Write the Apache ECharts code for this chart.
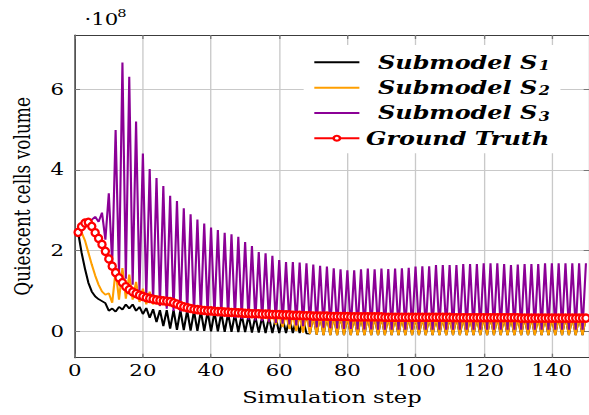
<!DOCTYPE html>
<html><head><meta charset="utf-8">
<script src="https://cdn.jsdelivr.net/npm/echarts@6/dist/echarts.min.js"></script>
<style>
html,body{margin:0;padding:0;background:#fff;overflow:hidden;}
#wrap{width:589px;height:415px;overflow:hidden;position:relative;background:#fff;}
#chart{width:443px;height:415px;transform:scaleX(1.329571);transform-origin:0 0;}
</style></head><body>
<div id="wrap"><div id="chart"></div></div>
<script>
// Simulation steps 1..150
const steps = [];
for (let i = 1; i <= 150; i++) steps.push(i);

// Values in units of 1e8
const submodelS1 = [
 2.45,1.95,1.55,1.20,0.98,0.86,0.79,0.74,0.69,0.50,
 0.56,0.48,0.60,0.53,0.66,0.56,0.66,0.50,0.60,0.42,
 0.57,0.33,0.54,0.22,0.52,0.12,0.52,0.06,0.52,0.03,
 0.52,0.02,0.51,0.01,0.50,0.00,0.50,0.00,0.48,-0.01,
 0.47,-0.01,0.45,-0.02,0.44,-0.02,0.42,-0.03,0.40,-0.03,
 0.38,-0.04,0.36,-0.04,0.35,-0.05,0.34,-0.05,0.33,-0.05,
 0.32,-0.05,0.31,-0.05,0.30,-0.05,0.30,-0.06,-0.07,0.39,
 -0.09,0.39,-0.10,0.38,-0.10,0.38,-0.10,0.38,-0.10,0.37,
 -0.10,0.37,-0.10,0.37,-0.10,0.37,-0.10,0.36,-0.10,0.36,
 -0.10,0.36,-0.10,0.36,-0.10,0.36,-0.10,0.36,-0.10,0.35,
 -0.10,0.35,-0.10,0.35,-0.10,0.35,-0.10,0.35,-0.10,0.35,
 -0.10,0.35,-0.10,0.35,-0.10,0.35,-0.10,0.35,-0.10,0.35,
 -0.10,0.35,-0.10,0.35,-0.10,0.35,-0.10,0.35,-0.10,0.35,
 -0.10,0.35,-0.10,0.35,-0.10,0.35,-0.10,0.35,-0.10,0.35,
 -0.10,0.35,-0.10,0.35,-0.10,0.35,-0.10,0.35,-0.10,0.35
];
const submodelS2 = [
 2.45,2.45,2.25,1.95,1.65,1.38,1.15,0.98,0.90,0.94,
 0.70,1.50,0.78,1.56,0.80,1.40,0.78,1.22,0.72,1.05,
 0.66,0.98,0.66,0.88,0.62,0.84,0.60,0.80,0.58,0.75,
 0.55,0.70,0.52,0.65,0.50,0.62,0.48,0.60,0.46,0.58,
 0.45,0.56,0.44,0.55,0.43,0.53,0.42,0.52,0.40,0.50,
 0.37,0.48,0.33,0.46,0.28,0.45,0.22,0.44,0.16,0.43,
 0.10,0.42,0.05,0.41,0.00,0.40,-0.04,0.40,-0.07,0.39,
 -0.09,0.39,-0.10,0.38,-0.10,0.38,-0.10,0.38,-0.10,0.37,
 -0.10,0.37,-0.10,0.37,-0.10,0.37,-0.10,0.36,-0.10,0.36,
 -0.10,0.36,-0.10,0.36,-0.10,0.36,-0.10,0.36,-0.10,0.35,
 -0.10,0.35,-0.10,0.35,-0.10,0.35,-0.10,0.35,-0.10,0.35,
 -0.10,0.35,-0.10,0.35,-0.10,0.35,-0.10,0.35,-0.10,0.35,
 -0.10,0.35,-0.10,0.35,-0.10,0.35,-0.10,0.35,-0.10,0.35,
 -0.10,0.35,-0.10,0.35,-0.10,0.35,-0.10,0.35,-0.10,0.35,
 -0.10,0.35,-0.10,0.35,-0.10,0.35,-0.10,0.35,-0.10,0.35
];
const submodelS3 = [
 2.45,2.62,2.68,2.74,2.76,2.84,2.71,2.94,2.27,3.42,
 1.68,4.99,1.39,6.67,1.30,6.31,1.15,5.20,1.00,4.41,
 0.85,4.02,0.72,3.80,0.62,3.60,0.55,3.36,0.50,3.23,
 0.48,3.05,0.46,2.90,0.44,2.77,0.42,2.67,0.40,2.57,
 0.38,2.51,0.36,2.44,0.34,2.40,0.32,2.34,0.30,2.21,
 0.28,2.11,0.26,1.96,0.24,1.93,0.22,1.87,0.20,1.76,
 0.18,1.71,0.16,1.71,0.14,1.70,0.12,1.68,0.10,1.65,
 0.09,1.62,0.08,1.60,0.07,1.56,0.06,1.53,0.05,1.51,
 0.05,1.51,0.04,1.53,0.04,1.55,0.04,1.53,0.03,1.55,
 0.03,1.54,0.03,1.55,0.03,1.56,0.03,1.57,0.03,1.60,
 0.03,1.61,0.03,1.61,0.03,1.64,0.03,1.64,0.03,1.64,
 0.03,1.64,0.03,1.66,0.03,1.66,0.03,1.66,0.03,1.68,
 0.03,1.68,0.03,1.68,0.03,1.66,0.03,1.64,0.03,1.65,
 0.03,1.66,0.03,1.66,0.03,1.66,0.03,1.68,0.03,1.68,
 0.03,1.68,0.03,1.68,0.03,1.68,0.03,1.68,0.03,1.68
];
const groundTruth = [
 2.45,2.59,2.68,2.70,2.60,2.44,2.30,2.15,1.98,1.79,
 1.61,1.45,1.32,1.20,1.10,1.03,0.97,0.93,0.89,0.86,
 0.83,0.81,0.79,0.77,0.76,0.75,0.74,0.73,0.70,0.67,
 0.63,0.60,0.58,0.56,0.54,0.53,0.52,0.51,0.50,0.50,
 0.49,0.48,0.48,0.47,0.47,0.46,0.46,0.45,0.45,0.44,
 0.44,0.43,0.43,0.43,0.42,0.42,0.42,0.41,0.41,0.41,
 0.40,0.40,0.40,0.39,0.39,0.39,0.38,0.38,0.38,0.37,
 0.37,0.37,0.37,0.37,0.36,0.36,0.36,0.36,0.36,0.36,
 0.35,0.35,0.35,0.35,0.35,0.35,0.35,0.35,0.35,0.35,
 0.34,0.34,0.34,0.34,0.34,0.34,0.34,0.34,0.34,0.34,
 0.34,0.34,0.34,0.34,0.34,0.34,0.34,0.34,0.34,0.34,
 0.33,0.33,0.33,0.33,0.33,0.33,0.33,0.33,0.33,0.33,
 0.33,0.33,0.33,0.33,0.33,0.33,0.33,0.33,0.33,0.33,
 0.32,0.32,0.32,0.32,0.32,0.32,0.32,0.32,0.32,0.32,
 0.32,0.32,0.32,0.32,0.32,0.32,0.32,0.32,0.32,0.32
];

const xTicks = [0,20,40,60,80,100,120,140];
const yTicks = [0,2,4,6];
const seriesNames = ['Submodel S1','Submodel S2','Submodel S3','Ground Truth'];
const xLabel = 'Simulation step';
const yLabel = 'Quiescent cells volume';

const serif = '"DejaVu Serif", serif';
const pair = arr => steps.map((s, i) => [s, arr[i]]);

const chart = echarts.init(document.getElementById('chart'), null, {renderer: 'svg', width: 443, height: 415});

const axisLineStyle = {color: '#3c3c3c', width: 1.1};
const tickStyle = {color: '#777', width: 1};
const gridStyle = {color: '#c9c9c9', width: 1};
const X_MAX = 150.9, Y_MIN = -0.663, Y_MAX = 7.35;

const option = {
  animation: false,
  backgroundColor: '#fff',
  grid: {left: 56.2, top: 35, width: 387.2, height: 322.7},
  xAxis: [
    {type: 'value', min: 0, max: X_MAX, position: 'bottom',
     name: xLabel, nameLocation: 'middle', nameGap: 31,
     nameTextStyle: {fontFamily: serif, fontSize: 17, color: '#000'},
     axisLine: {show: true, onZero: false, lineStyle: axisLineStyle},
     axisTick: {show: true, inside: true, length: 4, customValues: xTicks, lineStyle: tickStyle},
     axisLabel: {show: true, customValues: xTicks, margin: 5, fontFamily: serif, fontSize: 16, color: '#000'},
     splitLine: {show: true, lineStyle: gridStyle}},
    {type: 'value', min: 0, max: X_MAX, position: 'top',
     axisLine: {show: true, onZero: false, lineStyle: axisLineStyle},
     axisTick: {show: true, inside: true, length: 4, customValues: xTicks, lineStyle: tickStyle},
     axisLabel: {show: false, customValues: xTicks},
     splitLine: {show: false}}
  ],
  yAxis: [
    {type: 'value', min: Y_MIN, max: Y_MAX, position: 'left',
     name: yLabel, nameLocation: 'middle', nameGap: 31,
     nameTextStyle: {fontFamily: serif, fontSize: 17, color: '#000'},
     axisLine: {show: true, onZero: false, lineStyle: axisLineStyle},
     axisTick: {show: true, inside: true, length: 4, customValues: yTicks, lineStyle: tickStyle},
     axisLabel: {show: true, customValues: yTicks, margin: 8, fontFamily: serif, fontSize: 16, color: '#000'},
     splitLine: {show: true, lineStyle: gridStyle}},
    {type: 'value', min: Y_MIN, max: Y_MAX, position: 'right',
     axisLine: {show: true, onZero: false, lineStyle: axisLineStyle},
     axisTick: {show: true, inside: true, length: 4, customValues: yTicks, lineStyle: tickStyle},
     axisLabel: {show: false, customValues: yTicks},
     splitLine: {show: false}}
  ],
  legend: {
    orient: 'vertical', left: 228.4, top: 45, padding: [8, 8, 6, 7], itemGap: 6.8,
    itemWidth: 33.9, itemHeight: 6, backgroundColor: '#fff', borderWidth: 0,
    data: [
      {name: seriesNames[0], itemStyle: {opacity: 0}},
      {name: seriesNames[1], itemStyle: {opacity: 0}},
      {name: seriesNames[2], itemStyle: {opacity: 0}},
      {name: seriesNames[3]}
    ],
    formatter: function (n) {
      if (n === 'Ground Truth') return '{g|' + n + '}';
      return '{p| }{t|' + n.slice(0, -1) + '}{s|' + n.slice(-1) + '}';
    },
    textStyle: {
      fontFamily: serif, fontStyle: 'italic', fontWeight: 'bold', fontSize: 18, color: '#000',
      rich: {
        p: {width: 9, fontSize: 18, lineHeight: 24},
        t: {fontFamily: serif, fontStyle: 'italic', fontWeight: 'bold', fontSize: 18, lineHeight: 24, color: '#000'},
        g: {fontFamily: serif, fontStyle: 'italic', fontWeight: 'bold', fontSize: 18, lineHeight: 24, color: '#000'},
        s: {fontFamily: serif, fontWeight: 'bold', fontSize: 12, lineHeight: 12, padding: [6.6, 0, 0, 1], color: '#000'}
      }
    }
  },
  graphic: [
    {type: 'text', x: 63.5, y: 19.5, silent: true,
     style: {text: '·10', fontFamily: serif, fontSize: 16, fill: '#000', align: 'left', verticalAlign: 'middle'}},
    {type: 'text', x: 88.2, y: 13.5, silent: true,
     style: {text: '8', fontFamily: serif, fontSize: 11, fill: '#000', align: 'left', verticalAlign: 'middle'}}
  ],
  series: [
    {name: seriesNames[0], type: 'line', data: pair(submodelS1), symbol: 'none', silent: true,
     lineStyle: {color: '#000000', width: 1.6}, itemStyle: {color: '#000000'}},
    {name: seriesNames[1], type: 'line', data: pair(submodelS2), symbol: 'none', silent: true,
     lineStyle: {color: '#ff9f00', width: 1.6}, itemStyle: {color: '#ff9f00'}},
    {name: seriesNames[2], type: 'line', data: pair(submodelS3), symbol: 'none', silent: true,
     lineStyle: {color: '#8b0096', width: 1.6}, itemStyle: {color: '#8b0096'}},
    {name: seriesNames[3], type: 'line', data: pair(groundTruth), symbol: 'emptyCircle', symbolSize: [5.4, 7.2],
     showSymbol: true, silent: true,
     lineStyle: {color: '#ff0000', width: 1.6},
     itemStyle: {color: '#ff0000', borderColor: '#ff0000', borderWidth: 1.8}}
  ]
};
chart.setOption(option);
</script>
</body></html>
